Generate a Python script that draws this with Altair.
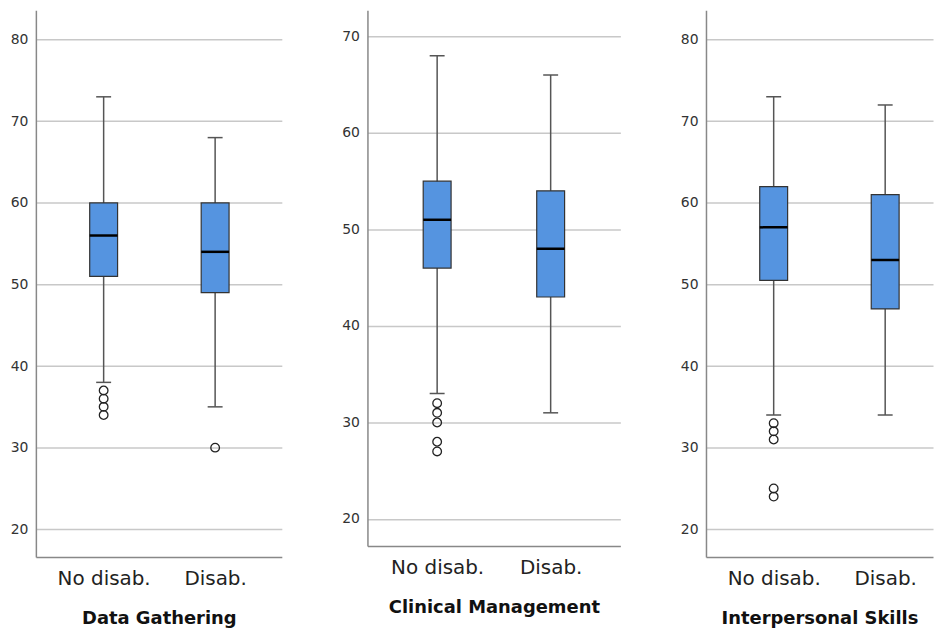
import altair as alt
import pandas as pd

categories = ["No disab.", "Disab."]

panel_titles = ["Data Gathering", "Clinical Management", "Interpersonal Skills"]

# per panel: [No disab., Disab.]
whisker_low = [[38, 35], [33, 31], [34, 34]]
q1 = [[51, 49], [46, 43], [50.5, 47]]
median = [[56, 54], [51, 48], [57, 53]]
q3 = [[60, 60], [55, 54], [62, 61]]
whisker_high = [[73, 68], [68, 66], [73, 72]]

outliers = [
    [[37, 36, 35, 34], [30]],
    [[32, 31, 30, 28, 27], []],
    [[33, 32, 31, 25, 24], []],
]

y_ticks = [[20, 30, 40, 50, 60, 70, 80], [20, 30, 40, 50, 60, 70], [20, 30, 40, 50, 60, 70, 80]]
y_domains = [[16.6, 83.6], [17.2, 72.7], [16.6, 83.6]]
heights = [549, 538, 549]
widths = [247, 254, 228]
x_padding = [0.603, 0.614, 0.518]
x_align = [0.504, 0.5, 0.586]

FONT = "DejaVu Sans"
BLUE = "#5594E0"


def panel(i):
    stats = pd.DataFrame({
        "cat": categories,
        "lo": whisker_low[i],
        "q1": q1[i],
        "med": median[i],
        "q3": q3[i],
        "hi": whisker_high[i],
    })
    out_rows = []
    for c, vals in zip(categories, outliers[i]):
        for v in vals:
            out_rows.append({"cat": c, "v": v})
    outs = pd.DataFrame(out_rows, columns=["cat", "v"])

    xscale = alt.Scale(type="point", padding=x_padding[i], align=x_align[i])
    x = alt.X(
        "cat:N",
        sort=categories,
        scale=xscale,
        axis=alt.Axis(
            title=panel_titles[i],
            labelAngle=0,
            labelFontSize=20,
            labelColor="#222222",
            labelPadding=12,
            titleFontSize=18,
            titleFontWeight="bold",
            titleColor="#111111",
            titlePadding=21,
            ticks=False,
            domainColor="#888888",
            domainWidth=1.5,
            grid=False,
        ),
    )
    yscale = alt.Scale(domain=y_domains[i], zero=False, nice=False)
    yaxis = alt.Axis(
        title=None,
        values=y_ticks[i],
        grid=True,
        gridColor="#c8c8c8",
        gridWidth=1.5,
        ticks=False,
        labelPadding=8,
        labelFontSize=14,
        labelColor="#333333",
        domainColor="#888888",
        domainWidth=1.5,
    )

    base = alt.Chart(stats).encode(x=x)
    whisk = base.mark_rule(color="#555555", strokeWidth=1.5).encode(
        y=alt.Y("lo:Q", scale=yscale, axis=yaxis), y2="hi:Q"
    )
    box = base.mark_bar(size=28, fill=BLUE, stroke="#333333", strokeWidth=1.2, opacity=1).encode(
        y=alt.Y("q1:Q", scale=yscale), y2="q3:Q"
    )
    med = base.mark_tick(size=28, thickness=2.5, color="#000000", opacity=1).encode(
        y=alt.Y("med:Q", scale=yscale)
    )
    cap_lo = base.mark_tick(size=15, thickness=1.5, color="#555555", opacity=1).encode(
        y=alt.Y("lo:Q", scale=yscale)
    )
    cap_hi = base.mark_tick(size=15, thickness=1.5, color="#555555", opacity=1).encode(
        y=alt.Y("hi:Q", scale=yscale)
    )
    pts = alt.Chart(outs).mark_point(
        shape="circle", filled=False, size=75, stroke="#222222", strokeWidth=1.3, opacity=1
    ).encode(
        x=alt.X("cat:N", sort=categories, scale=xscale),
        y=alt.Y("v:Q", scale=yscale),
    )
    return alt.layer(whisk, box, med, cap_lo, cap_hi, pts).properties(
        width=widths[i], height=heights[i]
    )


chart = alt.hconcat(panel(0), panel(1), panel(2), spacing=58).properties(
    padding={"left": 1, "top": 0, "right": 0, "bottom": 0}
).configure(font=FONT).configure_view(stroke="transparent")

chart.save("out.html", embed_options={"renderer": "svg", "actions": False})
